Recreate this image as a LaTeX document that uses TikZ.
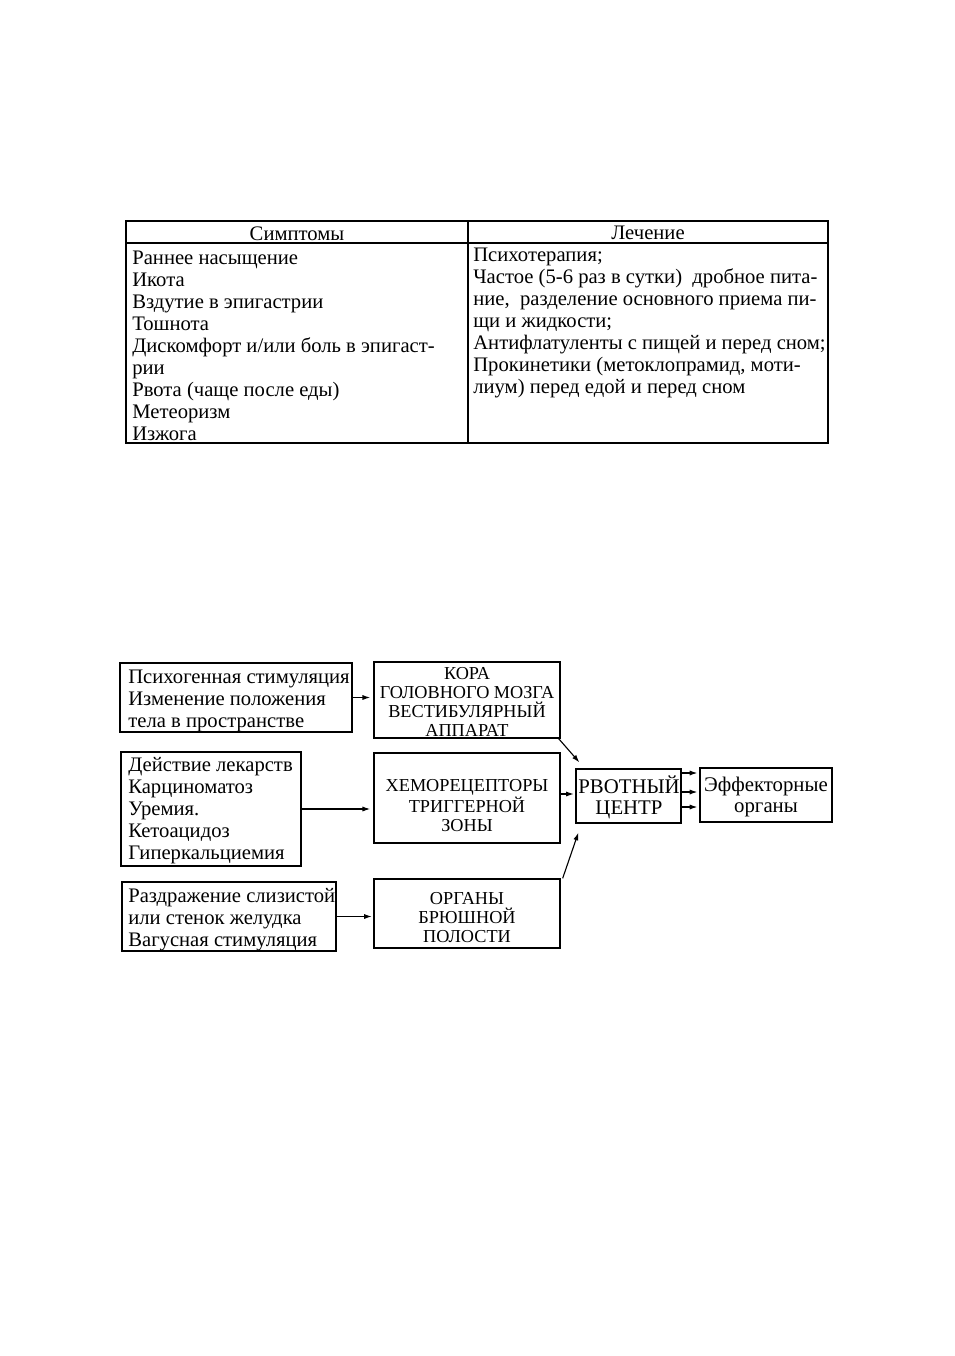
\documentclass[tikz,border=0pt]{standalone}
\usepackage{fontspec}
\setmainfont{Liberation Serif}
\usetikzlibrary{arrows.meta,calc}
\begin{document}
\begin{tikzpicture}[x=0.625pt,y=-0.625pt,
  txt/.style={inner sep=0pt,align=left,font=\fontsize{12.9}{13.75}\selectfont},
  captxt/.style={inner sep=0pt,align=center,font=\fontsize{11.4}{11.9}\selectfont},
  midtxt/.style={inner sep=0pt,align=center,font=\fontsize{13}{13.2}\selectfont},
  box/.style={draw,line width=0.8pt,inner sep=0pt},
  arr/.style={line width=0.7pt,-{Latex[length=4.8pt,width=3.2pt]}}]
\useasboundingbox[fill=white] (0,0) rectangle (954,1356);
% ---------- table ----------
\draw[line width=0.8pt] (126,221) rectangle (828,443);
\draw[line width=0.8pt] (126,243) -- (828,243);
\draw[line width=0.8pt] (468,221) -- (468,443);
\node[txt] (h1) at (297,234) {Симптомы};
\node[txt] (h2) at (648,233) {Лечение};
\node[txt,anchor=west] (c1) at (132,346) {Раннее насыщение\\Икота\\Вздутие в эпигастрии\\Тошнота\\Дискомфорт и/или боль в эпигаст-\\рии\\Рвота (чаще после еды)\\Метеоризм\\Изжога};
\node[txt,anchor=west] (c2) at (473,323) {Психотерапия;\\Частое (5-6 раз в сутки)\ \ дробное пита-\\ние,\ \ разделение основного приема пи-\\щи и жидкости;\\Антифлатуленты с пищей и перед сном;\\Прокинетики (метоклопрамид, моти-\\лиум) перед едой и перед сном};
% ---------- diagram boxes ----------
\node[box,minimum width=232*0.625pt,minimum height=69*0.625pt] (A) at (236,697.5) {};
\node[box,minimum width=186*0.625pt,minimum height=76*0.625pt] (B) at (467,700) {};
\node[box,minimum width=180*0.625pt,minimum height=114*0.625pt] (C) at (211,809) {};
\node[box,minimum width=186*0.625pt,minimum height=90*0.625pt] (D) at (467,798) {};
\node[box,minimum width=214*0.625pt,minimum height=69*0.625pt] (E) at (229,916.5) {};
\node[box,minimum width=186*0.625pt,minimum height=69*0.625pt] (F) at (467,913.5) {};
\node[box,minimum width=105*0.625pt,minimum height=54*0.625pt] (G) at (628.5,796) {};
\node[box,minimum width=132*0.625pt,minimum height=54*0.625pt] (H) at (766,795) {};
% ---------- texts ----------
\node[txt,anchor=west] (tA) at (128,701) {Психогенная стимуляция\\Изменение положения\\тела в пространстве};
\node[captxt] (tB) at (467,702) {КОРА\\ГОЛОВНОГО МОЗГА\\ВЕСТИБУЛЯРНЫЙ\\АППАРАТ};
\node[txt,anchor=west] (tC) at (128,811) {Действие лекарств\\Карциноматоз\\Уремия.\\Кетоацидоз\\Гиперкальциемия};
\node[captxt] (tD) at (467,806) {ХЕМОРЕЦЕПТОРЫ\\ТРИГГЕРНОЙ\\ЗОНЫ};
\node[txt,anchor=west] (tE) at (128,920) {Раздражение слизистой\\или стенок желудка\\Вагусная стимуляция};
\node[captxt] (tF) at (467,918) {ОРГАНЫ\\БРЮШНОЙ\\ПОЛОСТИ};
\node[midtxt] (tG) at (629,797) {РВОТНЫЙ\\ЦЕНТР};
\node[midtxt] (tH) at (766,797) {Эффекторные\\органы};
% ---------- arrows ----------
\draw[arr,shorten >=2pt] (A.east) -- (A.east -| B.west);
\draw[arr,shorten >=2pt] (C.east) -- (C.east -| D.west);
\draw[arr,shorten >=1pt] (E.east) -- (E.east -| F.west);
\draw[arr,shorten >=1pt] ($(D.east)+(0,-4)$) -- ($(D.east -| G.west)+(0,-4)$);
\draw[arr] ($(B.south east)+(-2,0)$) -- ($(G.north west)+(4,-6)$);
\draw[arr] ($(F.north east)+(2,0)$) -- ($(G.south west)+(3,9)$);
\draw[arr] ($(G.east)+(0,-23)$) -- ($(H.west)+(-2,-22)$);
\draw[arr] ($(G.east)+(0,-4)$) -- ($(H.west)+(-2,-3)$);
\draw[arr] ($(G.east)+(0,11)$) -- ($(H.west)+(-2,12)$);
\end{tikzpicture}
\end{document}
